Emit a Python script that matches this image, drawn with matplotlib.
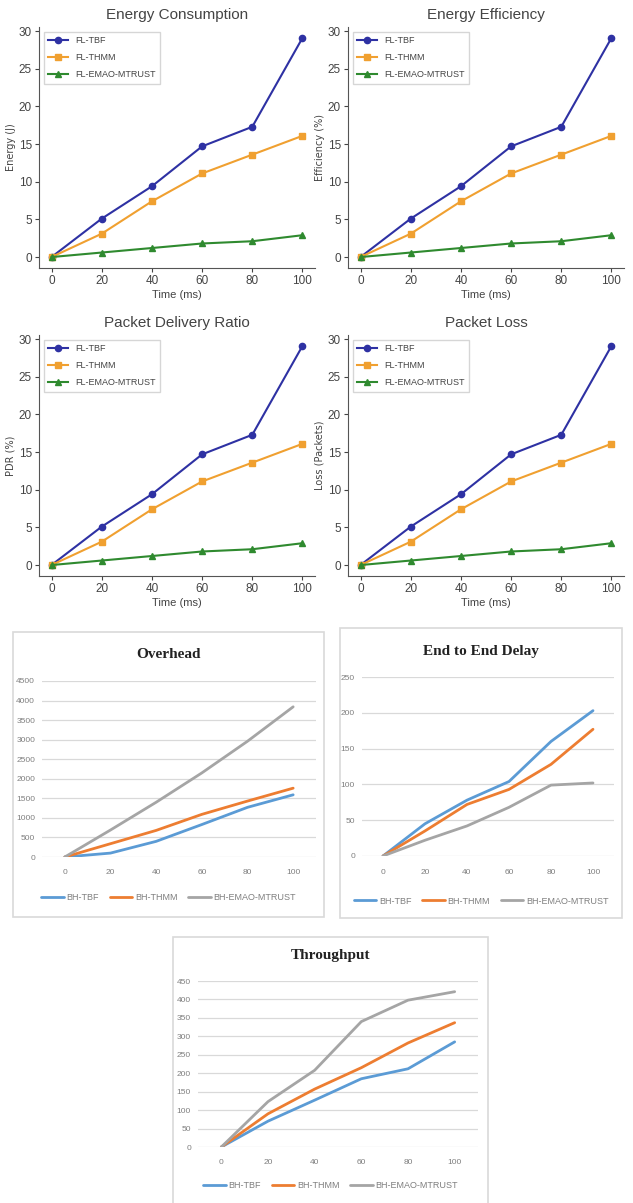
import numpy as np
import matplotlib
matplotlib.use('Agg')
import matplotlib.pyplot as plt
from matplotlib.patches import Rectangle

# ------------------------------------------------------------------ #
# Data                                                                 #
# ------------------------------------------------------------------ #
time_ms = [0, 20, 40, 60, 80, 100]

fl_labels = ['FL-TBF', 'FL-THMM', 'FL-EMAO-MTRUST']
fl_tbf = [0, 5.1, 9.4, 14.7, 17.3, 29.1]
fl_thmm = [0, 3.1, 7.4, 11.1, 13.6, 16.1]
fl_emao = [0, 0.6, 1.2, 1.8, 2.1, 2.9]

top_titles = ['Energy Consumption', 'Energy Efficiency', 'Packet Delivery Ratio', 'Packet Loss']
top_ylabels = ['Energy (J)', 'Efficiency (%)', 'PDR (%)', 'Loss (Packets)']

bh_labels = ['BH-TBF', 'BH-THMM', 'BH-EMAO-MTRUST']

overhead_tbf = [0, 100, 400, 830, 1270, 1590]
overhead_thmm = [0, 340, 680, 1090, 1430, 1760]
overhead_emao = [0, 690, 1400, 2150, 2960, 3840]

delay_tbf = [0, 45, 78, 104, 160, 203]
delay_thmm = [0, 35, 72, 93, 128, 177]
delay_emao = [0, 22, 42, 68, 99, 102]

thr_tbf = [0, 70, 127, 185, 212, 285]
thr_thmm = [0, 90, 157, 215, 282, 337]
thr_emao = [0, 123, 208, 340, 398, 421]

W, H = 633, 1203
fig = plt.figure(figsize=(W / 100, H / 100), dpi=100)


def px_axes(x0, y0, x1, y1):
    """Add axes from pixel box (top-left origin)."""
    return fig.add_axes([x0 / W, 1 - y1 / H, (x1 - x0) / W, (y1 - y0) / H])


NARROW = ['Liberation Sans', 'DejaVu Sans']
fl_styles = [('#2e31a3', 'o'), ('#f0a030', 's'), ('#2f8a2f', '^')]

# ------------------------------------------------------------------ #
# Top four python-style charts                                         #
# ------------------------------------------------------------------ #
boxes = [(39, 27, 315, 268), (348, 27, 624, 268),
         (39, 335, 315, 576), (348, 335, 624, 576)]

for box, title, ylab in zip(boxes, top_titles, top_ylabels):
    ax = px_axes(*box)
    for ys, lab, (c, m) in zip([fl_tbf, fl_thmm, fl_emao], fl_labels, fl_styles):
        ax.plot(time_ms, ys, color=c, marker=m, markersize=4.5, lw=1.5, label=lab)
    ax.set_title(title, fontsize=11, color='#444444', family=NARROW, pad=6)
    ax.set_xlabel('Time (ms)', fontsize=8, color='#444444', family=NARROW, labelpad=2)
    ax.set_ylabel(ylab, fontsize=7, color='#444444')
    ax.yaxis.set_label_coords(-0.085, 0.5)
    ax.set_xticks(time_ms)
    ax.set_yticks([0, 5, 10, 15, 20, 25, 30])
    ax.tick_params(labelsize=8.5, colors='#444444', length=3, pad=2)
    for lbl in ax.get_xticklabels() + ax.get_yticklabels():
        lbl.set_family(NARROW)
    for s in ['top', 'right']:
        ax.spines[s].set_visible(False)
    for s in ['left', 'bottom']:
        ax.spines[s].set_color('#555555')
    leg = ax.legend(loc='upper left', prop={'family': NARROW, 'size': 6.5},
                    frameon=True, fancybox=False, edgecolor='#cccccc',
                    handlelength=2.2, borderpad=0.5, labelspacing=0.9)
    for t in leg.get_texts():
        t.set_color('#444444')

# ------------------------------------------------------------------ #
# Bottom Excel-style charts                                            #
# ------------------------------------------------------------------ #
bh_colors = ['#5b9bd5', '#ed7d31', '#a5a5a5']


def excel_chart(frame, plot_box, title, series, ymax, ystep, title_y, legend_y):
    fx0, fy0, fx1, fy1 = frame
    fig.patches.append(Rectangle((fx0 / W, 1 - fy1 / H), (fx1 - fx0) / W, (fy1 - fy0) / H,
                                 transform=fig.transFigure, fill=False,
                                 edgecolor='#d9d9d9', lw=1.2))
    ax = px_axes(*plot_box)
    for ys, lab, c in zip(series, bh_labels, bh_colors):
        ax.plot(time_ms, ys, color=c, lw=2.0, label=lab, solid_joinstyle='round',
                solid_capstyle='round')
    ax.set_xlim(-10, 110)
    ax.set_ylim(0, ymax)
    ax.set_xticks(time_ms)
    ax.set_yticks(np.arange(0, ymax + 1, ystep))
    ax.grid(axis='y', color='#d9d9d9', lw=0.9)
    ax.set_axisbelow(True)
    for s in ax.spines.values():
        s.set_visible(False)
    ax.tick_params(length=0, labelsize=6, colors='#7f7f7f')
    ax.tick_params(axis='x', pad=9)
    ax.tick_params(axis='y', pad=5)
    for lbl in ax.get_xticklabels() + ax.get_yticklabels():
        lbl.set_family(NARROW)
    cx = (fx0 + fx1) / 2
    fig.text(cx / W, 1 - title_y / H, title, ha='center', va='center',
             fontsize=11, fontweight='bold', family=['Liberation Serif', 'DejaVu Serif'],
             color='#222222')
    handles, labels = ax.get_legend_handles_labels()
    leg = fig.legend(handles, labels, loc='center', bbox_to_anchor=(cx / W, 1 - legend_y / H),
                     ncol=3, frameon=False, prop={'family': NARROW, 'size': 6.5},
                     handlelength=2.5, columnspacing=1.2, handletextpad=0.3)
    for t in leg.get_texts():
        t.set_color('#7f7f7f')
    return ax


excel_chart((13, 632, 324, 917), (42, 681, 316, 857), 'Overhead',
            [overhead_tbf, overhead_thmm, overhead_emao], 4500, 500, 654, 898)
excel_chart((340, 628, 622, 918), (362, 677, 614, 856), 'End to End Delay',
            [delay_tbf, delay_thmm, delay_emao], 250, 50, 652, 901)
excel_chart((173, 937, 488, 1210), (198, 981, 478, 1147), 'Throughput',
            [thr_tbf, thr_thmm, thr_emao], 450, 50, 956, 1186)

fig.savefig('out.png', dpi=100)
